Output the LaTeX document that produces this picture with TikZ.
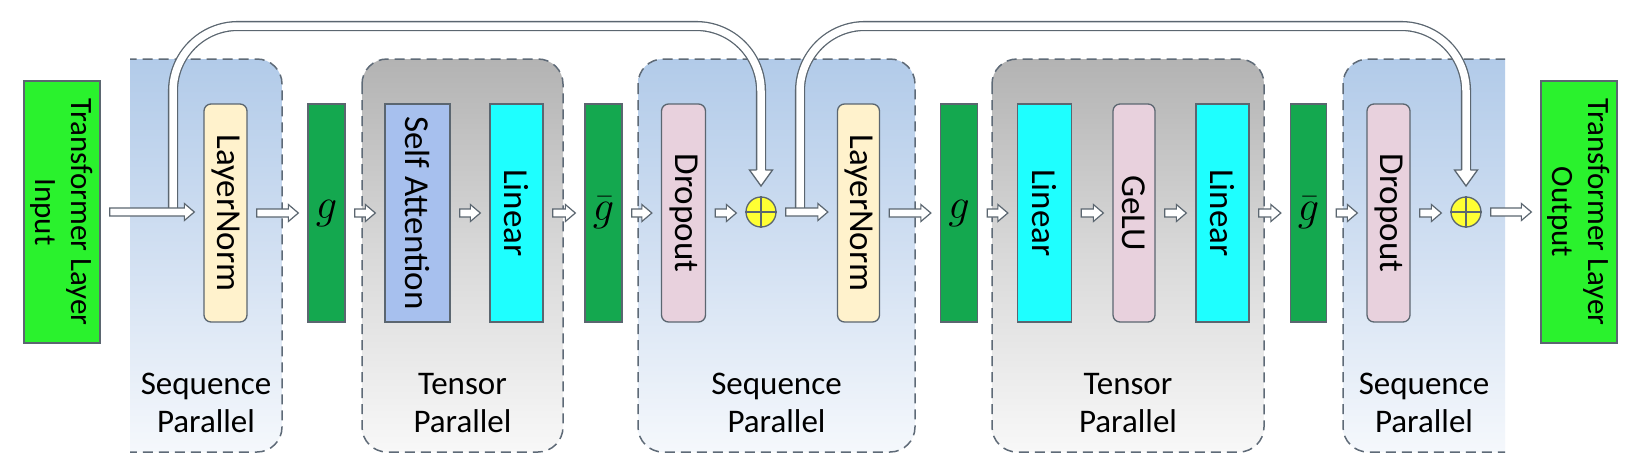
\documentclass[tikz,border=0pt]{standalone}
\usepackage{fontspec}
\setmainfont{Carlito}
\usetikzlibrary{calc}
\definecolor{seqtop}{HTML}{B2CBE9}
\definecolor{seqmid}{HTML}{D2E0F2}
\definecolor{seqbot}{HTML}{F5F8FC}
\definecolor{tentop}{HTML}{B3B3B3}
\definecolor{tenmid}{HTML}{D9D9D9}
\definecolor{tenbot}{HTML}{F8F8F8}
\definecolor{dashcol}{HTML}{5E6A77}
\definecolor{edge}{HTML}{5B6670}
\definecolor{iogreen}{HTML}{2AF22D}
\definecolor{gdark}{HTML}{14A84F}
\definecolor{lnfill}{HTML}{FFF2CC}
\definecolor{pinkfill}{HTML}{E8D1DD}
\definecolor{safill}{HTML}{A7C0EE}
\definecolor{cyanfill}{HTML}{1EFFFF}
\definecolor{plusfill}{HTML}{FFFF33}
\tikzset{
  box/.style={draw=edge, line width=1.3pt, minimum height=218pt, inner sep=0pt},
  rbox/.style={box, rounded corners=7pt},
  vtext/.style={rotate=-90, font=\fontsize{35}{40}\selectfont, text=black, inner sep=0pt},
  iotext/.style={rotate=-90, font=\fontsize{31}{36}\selectfont, text=black, align=center, inner sep=0pt},
  gtext/.style={font=\fontsize{24.88}{30}\selectfont, scale=1.7, inner sep=0pt},
  grouplabel/.style={font=\fontsize{33}{38}\selectfont, align=center, inner sep=0pt},
  dashedbox/.style={draw=dashcol, line width=1.5pt, dash pattern=on 10pt off 6pt, rounded corners=25pt},
  seqshade/.style={top color=seqtop, bottom color=seqbot, middle color=seqmid},
  tenshade/.style={top color=tentop, bottom color=tenbot, middle color=tenmid},
  arrowbox/.style={draw=edge, line width=1.2pt, fill=white, line join=miter},
  skipline/.style={draw=edge, line width=1.3pt, double=white, double distance=7.5pt, rounded corners=65pt},
  skiphead/.style={draw=edge, line width=1.3pt, fill=white},
  plusnode/.style={circle, draw=edge, line width=1.3pt, fill=plusfill, minimum size=30pt, inner sep=0pt}
}
\newcommand\flow[2]{%
  \draw[arrowbox] let \p1=(#1.east), \p2=(#2.west) in
    (\x1+9pt,\y1+4pt) -- (\x2-19pt,\y1+4pt) -- (\x2-19pt,\y1+8.5pt) -- (\x2-9pt,\y1)
    -- (\x2-19pt,\y1-8.5pt) -- (\x2-19pt,\y1-4pt) -- (\x1+9pt,\y1-4pt) -- cycle;}
\newcommand\skiptip[1]{%
  \filldraw[skiphead] let \p1=(#1) in
    (\x1-4.4pt,\y1) -- (\x1-11.5pt,\y1) -- (\x1,\y1-16pt) -- (\x1+11.5pt,\y1) -- (\x1+4.4pt,\y1);}
\begin{document}
\begin{tikzpicture}[x=1pt, y=-1pt]
\useasboundingbox (0,0) rectangle (1651,467);
\fill[white] (0,0) rectangle (1651,467);
% group boxes
\begin{scope}
  \clip (130,0) rectangle (1505,467);
  \shade[seqshade, rounded corners=25pt] (100,59) rectangle (282,452);
  \draw[dashedbox] (100,59) rectangle (282,452);
  \shade[seqshade, rounded corners=25pt] (1343,59) rectangle (1540,452);
  \draw[dashedbox] (1343,59) rectangle (1540,452);
\end{scope}
\shade[tenshade, rounded corners=25pt] (362,59) rectangle (563,452);
\draw[dashedbox] (362,59) rectangle (563,452);
\shade[seqshade, rounded corners=25pt] (638,59) rectangle (915,452);
\draw[dashedbox] (638,59) rectangle (915,452);
\shade[tenshade, rounded corners=25pt] (992,59) rectangle (1264,452);
\draw[dashedbox] (992,59) rectangle (1264,452);
\node[grouplabel] (lab1) at (206,403) {Sequence\\Parallel};
\node[grouplabel] (lab2) at (462.5,403) {Tensor\\Parallel};
\node[grouplabel] (lab3) at (776.5,403) {Sequence\\Parallel};
\node[grouplabel] (lab4) at (1128,403) {Tensor\\Parallel};
\node[grouplabel] (lab5) at (1424,403) {Sequence\\Parallel};
% nodes
\node[box, fill=iogreen, minimum width=76pt, minimum height=262pt,
  label={[iotext]center:Transformer Layer\\Input}] (in) at (62,212) {};
\node[rbox, fill=lnfill, minimum width=43pt, label={[vtext]center:LayerNorm}] (ln1) at (225.5,213) {};
\node[box, fill=gdark, minimum width=37pt, label={[gtext]center:$g$}] (g1) at (326.5,213) {};
\node[box, fill=safill, minimum width=65pt, label={[vtext]center:Self Attention}] (sa) at (417.5,213) {};
\node[box, fill=cyanfill, minimum width=53pt, label={[vtext]center:Linear}] (lin1) at (516.5,213) {};
\node[box, fill=gdark, minimum width=37pt, label={[gtext]center:$\bar{g}$}] (gb1) at (603.5,213) {};
\node[rbox, fill=pinkfill, minimum width=44pt, label={[vtext]center:Dropout}] (do1) at (683.5,213) {};
\node[plusnode] (p1) at (761,212) {};
\draw[edge, line width=1.2pt] (p1.north) -- (p1.south) (p1.west) -- (p1.east);
\node[rbox, fill=lnfill, minimum width=42pt, label={[vtext]center:LayerNorm}] (ln2) at (858.5,213) {};
\node[box, fill=gdark, minimum width=37pt, label={[gtext]center:$g$}] (g2) at (959,213) {};
\node[box, fill=cyanfill, minimum width=54pt, label={[vtext]center:Linear}] (lin2) at (1044.5,213) {};
\node[rbox, fill=pinkfill, minimum width=42pt, label={[vtext]center:GeLU}] (gelu) at (1134,213) {};
\node[box, fill=cyanfill, minimum width=53pt, label={[vtext]center:Linear}] (lin3) at (1222.5,213) {};
\node[box, fill=gdark, minimum width=36pt, label={[gtext]center:$\bar{g}$}] (gb2) at (1308.5,213) {};
\node[rbox, fill=pinkfill, minimum width=43pt, label={[vtext]center:Dropout}] (do2) at (1388.5,213) {};
\node[plusnode] (p2) at (1466,212) {};
\draw[edge, line width=1.2pt] (p2.north) -- (p2.south) (p2.west) -- (p2.east);
\node[box, fill=iogreen, minimum width=76pt, minimum height=262pt,
  label={[iotext]center:Transformer Layer\\Output}] (out) at (1579,212) {};
% skip connections (shafts)
\coordinate (s1) at (173,208);
\coordinate (s1top) at (173,26);
\coordinate (e1top) at (761,26);
\coordinate (e1) at (761,170);
\coordinate (s2) at (800,208);
\coordinate (s2top) at (800,26);
\coordinate (e2top) at (1466,26);
\coordinate (e2) at (1466,170);
\draw[skipline] (s1) -- (s1top) -- (e1top) -- (e1);
\draw[skipline] (s2) -- (s2top) -- (e2top) -- (e2);
% flow arrows
\flow{in}{ln1}
\flow{ln1}{g1}
\flow{g1}{sa}
\flow{sa}{lin1}
\flow{lin1}{gb1}
\flow{gb1}{do1}
\flow{do1}{p1}
\flow{p1}{ln2}
\flow{ln2}{g2}
\flow{g2}{lin2}
\flow{lin2}{gelu}
\flow{gelu}{lin3}
\flow{lin3}{gb2}
\flow{gb2}{do2}
\flow{do2}{p2}
\flow{p2}{out}
% skip heads
\skiptip{e1}
\skiptip{e2}
\end{tikzpicture}
\end{document}
